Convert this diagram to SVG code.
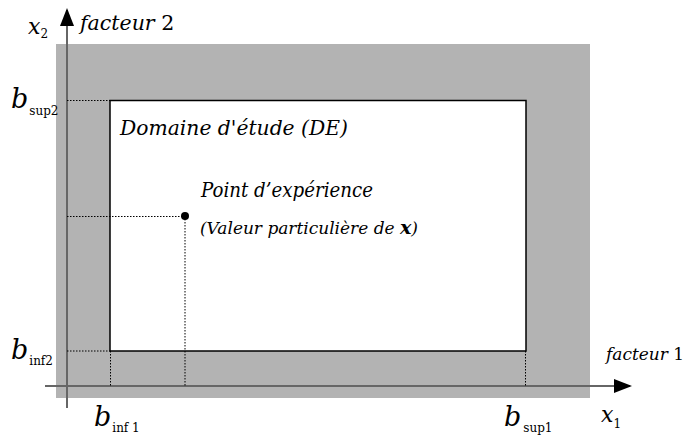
<svg xmlns="http://www.w3.org/2000/svg" width="691" height="437" viewBox="0 0 691 437">
<defs>
<style>
text{font-family:'DejaVu Serif',serif;font-style:italic;fill:#000}
.s{font-style:normal}
.dot{stroke:#000;stroke-width:1;stroke-dasharray:1.5 1.5;fill:none}
.ax{stroke:#666;stroke-width:2;fill:none}
</style>
<marker id="ah" markerWidth="18" markerHeight="14" refX="16" refY="7" orient="auto" markerUnits="userSpaceOnUse">
<path d="M0,0 L18,7 L0,14 Z" fill="#000"/>
</marker>
</defs>
<g id="region">
<rect x="56" y="44" width="534" height="354" fill="#b3b3b3"/>
</g>
<g id="domaine">
<rect x="110" y="100.5" width="416" height="250.5" fill="#fff" stroke="#000" stroke-width="1.5"/>
<text x="120" y="135" font-size="21" textLength="228" lengthAdjust="spacingAndGlyphs">Domaine d'étude (DE)</text>
</g>
<g id="connectors">
<line class="ax" x1="67" y1="408" x2="67" y2="10" marker-end="url(#ah)"/>
<line class="ax" x1="45" y1="386" x2="630" y2="386" marker-end="url(#ah)"/>
<line class="dot" x1="67" y1="100.5" x2="110" y2="100.5"/>
<line class="dot" x1="67" y1="351" x2="110" y2="351"/>
<line class="dot" x1="110.5" y1="351" x2="110.5" y2="386"/>
<line class="dot" x1="525.5" y1="351" x2="525.5" y2="386"/>
<line class="dot" x1="67" y1="216.5" x2="185" y2="216.5"/>
<line class="dot" x1="185" y1="216" x2="185" y2="386"/>
</g>
<g id="point">
<circle cx="185" cy="216" r="4" fill="#000"/>
<text x="201" y="197" font-size="20" textLength="172" lengthAdjust="spacingAndGlyphs">Point d’expérience</text>
<text x="200" y="234" font-size="16" textLength="218" lengthAdjust="spacingAndGlyphs">(Valeur particulière de <tspan font-weight="bold" font-size="18">x</tspan>)</text>
</g>
<g id="labels">
<text x="80" y="30" font-size="20.5">facteur <tspan class="s">2</tspan></text>
<text x="28" y="34" font-size="22">x<tspan class="s" font-size="12" dy="4">2</tspan></text>
<text x="11" y="108" font-size="27">b<tspan class="s" font-size="12" dx="1" dy="7">sup2</tspan></text>
<text x="11" y="359" font-size="27">b<tspan class="s" font-size="12" dx="1" dy="6">inf2</tspan></text>
<text x="606" y="360" font-size="17">facteur <tspan class="s">1</tspan></text>
<text x="94" y="426" font-size="27">b<tspan class="s" font-size="12" dx="1" dy="6">inf 1</tspan></text>
<text x="504" y="426" font-size="27">b<tspan class="s" font-size="12" dx="2" dy="6">sup1</tspan></text>
<text x="601" y="422" font-size="22">x<tspan class="s" font-size="12" dy="6">1</tspan></text>
</g>
</svg>
